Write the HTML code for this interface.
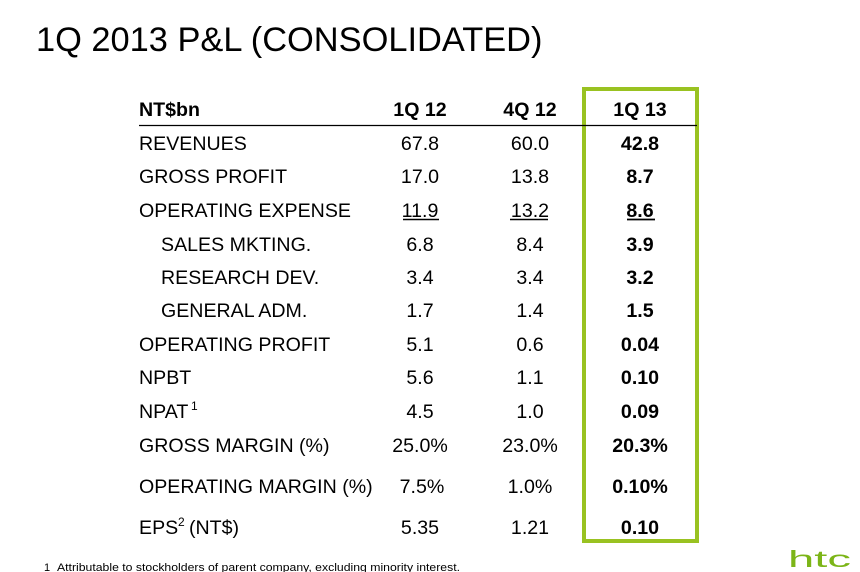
<!DOCTYPE html>
<html>
<head>
<meta charset="utf-8">
<style>
html,body{margin:0;padding:0;background:#fff;}
svg{display:block;}
text{font-family:"Liberation Sans",Arial,sans-serif;fill:#000;}
.l{font-size:19.6px;}
.v{font-size:19.6px;text-anchor:middle;}
.b{font-weight:bold;}
</style>
</head>
<body>
<svg width="860" height="572" viewBox="0 0 860 572" xmlns="http://www.w3.org/2000/svg">
<rect width="860" height="572" fill="#fff"/>
<text x="36" y="51" style="font-size:34.4px">1Q 2013 P&amp;L (CONSOLIDATED)</text>

<!-- green box -->
<rect x="584" y="89" width="113" height="452" fill="none" stroke="#99c221" stroke-width="4"/>

<!-- header -->
<text class="l b" x="139" y="116">NT$bn</text>
<text class="v b" x="420" y="116">1Q 12</text>
<text class="v b" x="530" y="116">4Q 12</text>
<text class="v b" x="640" y="116">1Q 13</text>
<line x1="139" y1="125.5" x2="697" y2="125.5" stroke="#000" stroke-width="1.2"/>

<!-- rows -->
<text class="l" x="139" y="150">REVENUES</text>
<text class="v" x="420" y="150">67.8</text><text class="v" x="530" y="150">60.0</text><text class="v b" x="640" y="150">42.8</text>

<text class="l" x="139" y="183">GROSS PROFIT</text>
<text class="v" x="420" y="183">17.0</text><text class="v" x="530" y="183">13.8</text><text class="v b" x="640" y="183">8.7</text>

<text class="l" x="139" y="217">OPERATING EXPENSE</text>
<text class="v" x="420" y="217">11.9</text><text class="v" x="530" y="217">13.2</text><text class="v b" x="640" y="217">8.6</text>
<line x1="403" y1="219.5" x2="439" y2="219.5" stroke="#000" stroke-width="1.4"/>
<line x1="510" y1="219.5" x2="548" y2="219.5" stroke="#000" stroke-width="1.4"/>
<line x1="627" y1="219.5" x2="655" y2="219.5" stroke="#000" stroke-width="1.8"/>

<text class="l" x="161" y="251">SALES MKTING.</text>
<text class="v" x="420" y="251">6.8</text><text class="v" x="530" y="251">8.4</text><text class="v b" x="640" y="251">3.9</text>

<text class="l" x="161" y="284">RESEARCH DEV.</text>
<text class="v" x="420" y="284">3.4</text><text class="v" x="530" y="284">3.4</text><text class="v b" x="640" y="284">3.2</text>

<text class="l" x="161" y="317">GENERAL ADM.</text>
<text class="v" x="420" y="317">1.7</text><text class="v" x="530" y="317">1.4</text><text class="v b" x="640" y="317">1.5</text>

<text class="l" x="139" y="351">OPERATING PROFIT</text>
<text class="v" x="420" y="351">5.1</text><text class="v" x="530" y="351">0.6</text><text class="v b" x="640" y="351">0.04</text>

<text class="l" x="139" y="384">NPBT</text>
<text class="v" x="420" y="384">5.6</text><text class="v" x="530" y="384">1.1</text><text class="v b" x="640" y="384">0.10</text>

<text class="l" x="139" y="418">NPAT</text><text x="191" y="410" style="font-size:12px">1</text>
<text class="v" x="420" y="418">4.5</text><text class="v" x="530" y="418">1.0</text><text class="v b" x="640" y="418">0.09</text>

<text class="l" x="139" y="452">GROSS MARGIN (%)</text>
<text class="v" x="420" y="452">25.0%</text><text class="v" x="530" y="452">23.0%</text><text class="v b" x="640" y="452">20.3%</text>

<text class="l" x="139" y="493">OPERATING MARGIN (%)</text>
<text class="v" x="422" y="493">7.5%</text><text class="v" x="530" y="493">1.0%</text><text class="v b" x="640" y="493">0.10%</text>

<text class="l" x="139" y="534">EPS</text><text x="178" y="526" style="font-size:12px">2</text><text class="l" x="189" y="534">(NT$)</text>
<text class="v" x="420" y="534">5.35</text><text class="v" x="530" y="534">1.21</text><text class="v b" x="640" y="534">0.10</text>

<!-- footnote -->
<text x="44" y="571" style="font-size:11px">1</text>
<text x="57" y="571" style="font-size:11px" textLength="403" lengthAdjust="spacingAndGlyphs">Attributable to stockholders of parent company, excluding minority interest.</text>

<!-- logo -->
<text x="788" y="567" style="font-size:23px;fill:#7cb518" textLength="63" lengthAdjust="spacingAndGlyphs">htc</text>
</svg>
</body>
</html>
